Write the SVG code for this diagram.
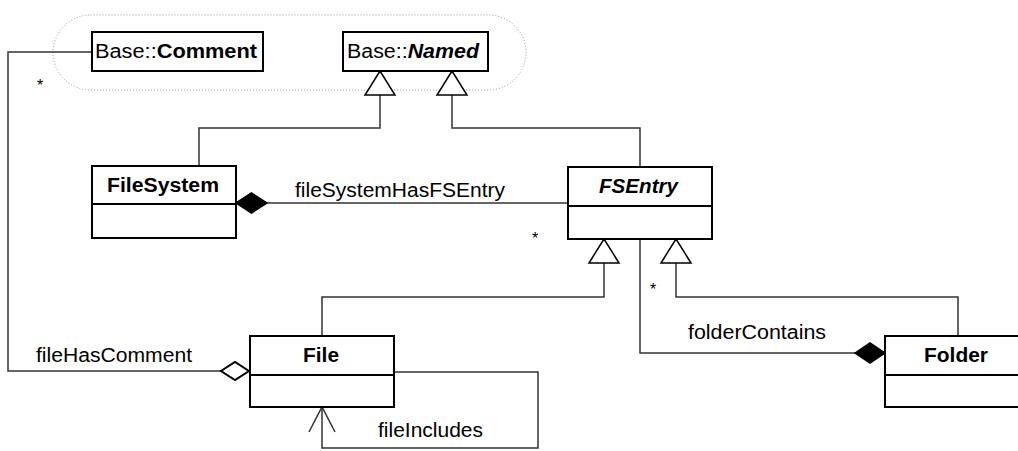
<svg xmlns="http://www.w3.org/2000/svg" width="1018" height="451" viewBox="0 0 1018 451">
<style>
text{font-family:"Liberation Sans",Arial,sans-serif;font-size:20px;fill:#000}
.b{font-weight:bold}
.bi{font-weight:bold;font-style:italic}
.box{fill:#fff;stroke:#000;stroke-width:2}
.div{stroke:#000;stroke-width:2}
.ln{fill:none;stroke:#333;stroke-width:1.5}
.tri{fill:#fff;stroke:#000;stroke-width:1.5}
.fd{fill:#000;stroke:#000;stroke-width:1.5}
.hd{fill:#fff;stroke:#000;stroke-width:2}
.st{font-size:16px}
</style>
<rect x="53" y="15" width="473" height="75" rx="37.5" ry="37.5" fill="none" stroke="#999" stroke-width="1" stroke-dasharray="1,2"/>
<g id="connectors">
<path class="ln" d="M92,52 H8 V371 H221"/>
<polygon class="hd" points="249,371 235,362 221,371 235,380"/>
<text x="36" y="362" textLength="156" lengthAdjust="spacingAndGlyphs">fileHasComment</text>
<text class="st" x="37" y="91">*</text>
<path class="ln" d="M199,166 V128 H380 V95"/>
<polygon class="tri" points="380,71 365,95 395,95"/>
<path class="ln" d="M640,167 V128 H452 V95"/>
<polygon class="tri" points="452,71 437,95 467,95"/>
<path class="ln" d="M267,203 H568"/>
<polygon class="fd" points="236,203 251.5,193 267,203 251.5,213"/>
<text x="295" y="197" textLength="210" lengthAdjust="spacingAndGlyphs">fileSystemHasFSEntry</text>
<text class="st" x="532" y="244">*</text>
<path class="ln" d="M322,336 V297 H604 V263"/>
<polygon class="tri" points="604,239 589,263 619,263"/>
<path class="ln" d="M958,336 V297 H676 V263"/>
<polygon class="tri" points="676,239 661,263 691,263"/>
<path class="ln" d="M640,239 V353 H855"/>
<polygon class="fd" points="855,353 870,343 885,353 870,363"/>
<text x="688" y="339" textLength="138" lengthAdjust="spacingAndGlyphs">folderContains</text>
<text class="st" x="650" y="295">*</text>
<path class="ln" d="M394,372 H538 V448 H322 V407"/>
<path class="ln" d="M309,432 L322,407 L335,432"/>
<text x="378" y="437" textLength="105" lengthAdjust="spacingAndGlyphs">fileIncludes</text>
</g>
<g id="Comment">
<rect class="box" x="92" y="32" width="171" height="39"/>
<text x="95" y="58" textLength="162" lengthAdjust="spacingAndGlyphs">Base::<tspan class="b">Comment</tspan></text>
</g>
<g id="Named">
<rect class="box" x="343" y="32" width="145" height="39"/>
<text x="347" y="58" textLength="132" lengthAdjust="spacingAndGlyphs">Base::<tspan class="bi">Named</tspan></text>
</g>
<g id="FileSystem">
<rect class="box" x="92" y="166" width="144" height="72"/>
<line class="div" x1="92" y1="204" x2="236" y2="204"/>
<text class="b" x="107" y="192" textLength="112" lengthAdjust="spacingAndGlyphs">FileSystem</text>
</g>
<g id="FSEntry">
<rect class="box" x="568" y="167" width="144" height="72"/>
<line class="div" x1="568" y1="206" x2="712" y2="206"/>
<text class="bi" x="599" y="193" textLength="79" lengthAdjust="spacingAndGlyphs">FSEntry</text>
</g>
<g id="File">
<rect class="box" x="250" y="336" width="144" height="71"/>
<line class="div" x1="250" y1="375" x2="394" y2="375"/>
<text class="b" x="303" y="362" textLength="36" lengthAdjust="spacingAndGlyphs">File</text>
</g>
<g id="Folder">
<rect class="box" x="885" y="336" width="144" height="71"/>
<line class="div" x1="885" y1="375" x2="1029" y2="375"/>
<text class="b" x="924" y="362" textLength="64" lengthAdjust="spacingAndGlyphs">Folder</text>
</g>
</svg>
